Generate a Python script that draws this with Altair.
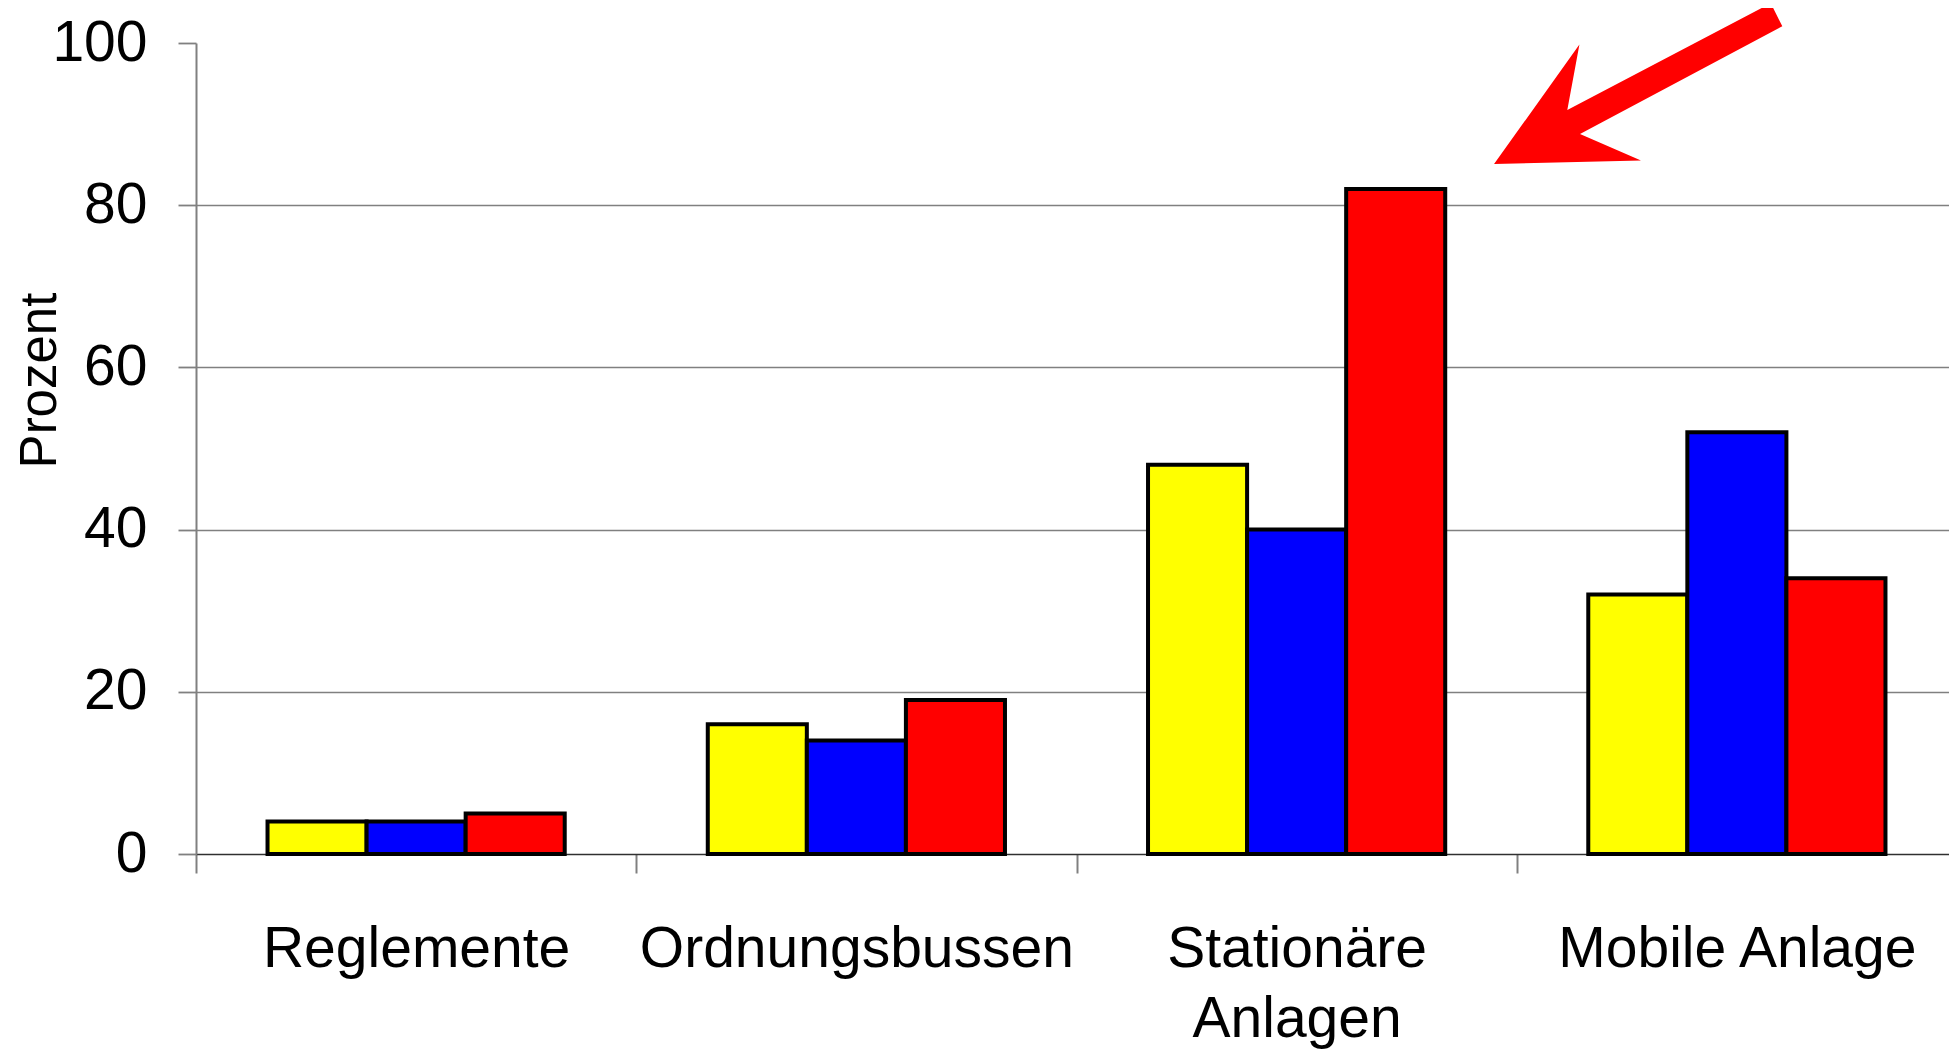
import altair as alt
import pandas as pd

# ---- data ----
categories = ["Reglemente", "Ordnungsbussen", "Stationäre Anlagen", "Mobile Anlage"]
series = ["Serie 1", "Serie 2", "Serie 3"]
colors = ["#FFFF00", "#0000FF", "#FF0000"]
values_s1 = [4, 16, 48, 32]
values_s2 = [4, 14, 40, 52]
values_s3 = [5, 19, 82, 34]
y_ticks = [0, 20, 40, 60, 80, 100]

rows = []
for s, vals in zip(series, [values_s1, values_s2, values_s3]):
    for c, v in zip(categories, vals):
        rows.append({"Kategorie": c, "Serie": s, "Prozent": v})
df = pd.DataFrame(rows)

# annotation arrow anchor (category + value)
arrow_df = pd.DataFrame({"Kategorie": ["Mobile Anlage"], "Prozent": [95.0]})
ARROW_PATH = ("M-1,0.558L-0.408,-0.27L-0.492,0.183L0.919,-0.557"
              "L0.999,-0.397L-0.404,0.35L0.019,0.534Z")

FONT = "Liberation Sans, Arial, sans-serif"
GREY = "#808080"

x_axis = alt.Axis(
    title=None, labelAngle=0, tickBand="extent", tickSize=19, tickColor=GREY,
    tickWidth=2, domainColor="#303030", domainWidth=1.3, labelFont=FONT,
    labelFontSize=57, labelColor="black", labelPadding=48, labelLineHeight=70,
    labelLimit=2000, labelOverlap=False,
    labelExpr="datum.label == 'Stationäre Anlagen' ? ['Stationäre', 'Anlagen'] : datum.label",
)
y_axis = alt.Axis(
    values=y_ticks, title="Prozent", titleFont=FONT, titleFontSize=51,
    titleFontWeight="normal", titleColor="black", titleAngle=270,
    titleAlign="center", titleBaseline="alphabetic", titleX=-141, titleY=337,
    labelFont=FONT, labelFontSize=57, labelColor="black", labelPadding=31,
    tickSize=18, tickColor=GREY, tickWidth=1.8, domainColor=GREY,
    domainWidth=2, grid=True, gridColor=GREY, gridWidth=1.5,
    gridOpacity={"condition": {"test": "datum.value >= 100 || datum.value <= 0", "value": 0}, "value": 1},
)

bars = alt.Chart(df).mark_bar(stroke="black", strokeWidth=4).encode(
    x=alt.X("Kategorie:N", sort=categories,
            scale=alt.Scale(domain=categories, paddingInner=0, paddingOuter=0),
            axis=x_axis),
    xOffset=alt.XOffset("Serie:N", sort=series,
                        scale=alt.Scale(domain=series, paddingInner=0, paddingOuter=0.722)),
    y=alt.Y("Prozent:Q", scale=alt.Scale(domain=[0, 100], nice=False), axis=y_axis),
    color=alt.Color("Serie:N", scale=alt.Scale(domain=series, range=colors), legend=None),
)

arrow = alt.Chart(arrow_df).mark_point(
    shape=ARROW_PATH, size=83175, filled=True, color="#FF0000", opacity=1, strokeWidth=0
).encode(
    x=alt.X("Kategorie:N", sort=categories, bandPosition=0.276),
    y=alt.Y("Prozent:Q"),
)

chart = alt.layer(bars, arrow).properties(
    width=1761, height=811,
    autosize=alt.AutoSizeParams(type="none"),
    padding={"left": 188, "top": 35, "right": -8, "bottom": 197},
).configure_view(strokeWidth=0)

chart.save("out.html", embed_options={"renderer": "svg", "actions": False})
